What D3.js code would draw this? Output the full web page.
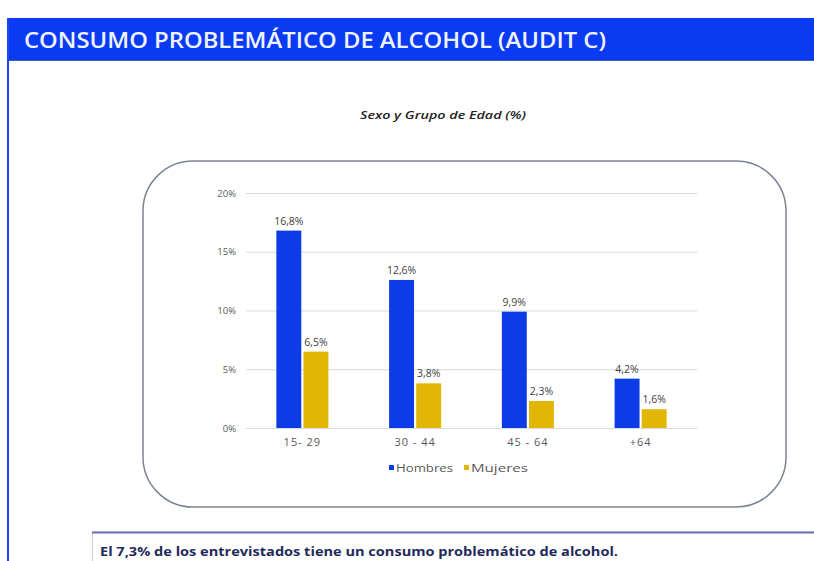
<!DOCTYPE html>
<html>
<head>
<meta charset="utf-8">
<script src="https://cdn.jsdelivr.net/npm/d3@7"></script>
<style>
  body { margin: 0; background: #fff; }
  svg { display: block; font-family: "Open Sans", "DejaVu Sans", sans-serif; }
</style>
</head>
<body>
<div id="chart"></div>
<script>
// Data
const groups = ["15- 29", "30 - 44", "45 - 64", "+64"];
const series = ["Hombres", "Mujeres"];
const hombres = [16.8, 12.6, 9.9, 4.2];
const mujeres = [6.5, 3.8, 2.3, 1.6];
const yTicks = [0, 5, 10, 15, 20];
const colors = { Hombres: "#0b3ce6", Mujeres: "#e2b606" };

const width = 814, height = 561;

const svg = d3.select("#chart").append("svg")
    .attr("width", width)
    .attr("height", height);

// Header bar
svg.append("rect")
    .attr("x", 7).attr("y", 18)
    .attr("width", width - 7).attr("height", 42)
    .attr("fill", "#0a3af2");
svg.append("line")
    .attr("x1", 7).attr("x2", width)
    .attr("y1", 60.5).attr("y2", 60.5)
    .attr("stroke", "#3b5fa8").attr("stroke-width", 1);
svg.append("line")
    .attr("x1", 8).attr("x2", 8)
    .attr("y1", 18).attr("y2", height)
    .attr("stroke", "#1a47f0").attr("stroke-width", 2);

svg.append("text")
    .attr("x", 24).attr("y", 48)
    .attr("fill", "#eef4ff")
    .style("font-size", "22px")
    .style("font-weight", "600")
    .attr("textLength", 582)
    .attr("lengthAdjust", "spacingAndGlyphs")
    .text("CONSUMO PROBLEMÁTICO DE ALCOHOL (AUDIT C)");

// Subtitle
svg.append("text")
    .attr("x", 443).attr("y", 119)
    .attr("text-anchor", "middle")
    .style("font-size", "11px")
    .style("font-style", "italic")
    .style("font-weight", "600")
    .attr("fill", "#222")
    .attr("textLength", 166)
    .attr("lengthAdjust", "spacingAndGlyphs")
    .text("Sexo y Grupo de Edad (%)");

// Rounded frame
svg.append("rect")
    .attr("x", 143).attr("y", 161)
    .attr("width", 643).attr("height", 346)
    .attr("rx", 50).attr("ry", 50)
    .attr("fill", "none")
    .attr("stroke", "#7d8494")
    .attr("stroke-width", 1.5);

// Scales
const x0 = d3.scaleBand()
    .domain(groups)
    .range([246, 697])
    .paddingInner(0.5)
    .paddingOuter(0.25);

const x1 = d3.scaleBand()
    .domain(series)
    .range([0, x0.bandwidth()])
    .padding(0.08);

const y = d3.scaleLinear()
    .domain([0, 20])
    .range([428, 193]);

// Gridlines
svg.append("g")
    .selectAll("line")
    .data(yTicks)
    .join("line")
    .attr("x1", 246).attr("x2", 697)
    .attr("y1", d => y(d) + 0.5).attr("y2", d => y(d) + 0.5)
    .attr("stroke", "#d9d9d9").attr("stroke-width", 1);

// Y labels
svg.append("g")
    .selectAll("text")
    .data(yTicks)
    .join("text")
    .attr("x", 236)
    .attr("y", d => y(d) + 3.5)
    .attr("text-anchor", "end")
    .style("font-size", "9.5px")
    .attr("fill", "#595959")
    .text(d => d + "%");

// Bars
const rows = groups.map((g, i) => ({ group: g, values: [
    { key: "Hombres", value: hombres[i] },
    { key: "Mujeres", value: mujeres[i] }
] }));

const fmt = v => v.toFixed(1).replace(".", ",") + "%";

const gGroups = svg.append("g")
    .selectAll("g")
    .data(rows)
    .join("g")
    .attr("transform", d => `translate(${x0(d.group)},0)`);

gGroups.selectAll("rect")
    .data(d => d.values)
    .join("rect")
    .attr("x", d => x1(d.key))
    .attr("y", d => y(d.value))
    .attr("width", x1.bandwidth())
    .attr("height", d => y(0) - y(d.value))
    .attr("fill", d => colors[d.key]);

gGroups.selectAll("text")
    .data(d => d.values)
    .join("text")
    .attr("x", d => x1(d.key) + x1.bandwidth() / 2)
    .attr("y", d => y(d.value) - 6)
    .attr("text-anchor", "middle")
    .style("font-size", "10.5px")
    .attr("fill", "#404040")
    .text(d => fmt(d.value));

// Category labels
svg.append("g")
    .selectAll("text")
    .data(groups)
    .join("text")
    .attr("x", d => x0(d) + x0.bandwidth() / 2)
    .attr("y", 446)
    .attr("text-anchor", "middle")
    .style("font-size", "11px")
    .style("letter-spacing", "1px")
    .attr("fill", "#595959")
    .text(d => d);

// Legend
const legend = svg.append("g")
    .attr("transform", "translate(389,472)");
const legendX = [0, 75];
const li = legend.selectAll("g")
    .data(series)
    .join("g")
    .attr("transform", (d, i) => `translate(${legendX[i]},0)`);
li.append("rect")
    .attr("x", 0).attr("y", -7)
    .attr("width", 5).attr("height", 5)
    .attr("fill", d => colors[d]);
li.append("text")
    .attr("x", 7).attr("y", 0)
    .style("font-size", "11px")
    .attr("fill", "#595959")
    .attr("textLength", 57)
    .attr("lengthAdjust", "spacingAndGlyphs")
    .text(d => d);

// Bottom note box
svg.append("rect")
    .attr("x", 92.5).attr("y", 532)
    .attr("width", width - 92).attr("height", 40)
    .attr("fill", "#fff")
    .attr("stroke", "#c9cde0").attr("stroke-width", 1);
svg.append("line")
    .attr("x1", 92).attr("x2", width)
    .attr("y1", 532.5).attr("y2", 532.5)
    .attr("stroke", "#6870b4").attr("stroke-width", 2);
svg.append("text")
    .attr("x", 100).attr("y", 556)
    .style("font-size", "12px")
    .style("font-weight", "700")
    .attr("fill", "#1f2a5c")
    .attr("textLength", 518)
    .attr("lengthAdjust", "spacingAndGlyphs")
    .text("El 7,3% de los entrevistados tiene un consumo problemático de alcohol.");
</script>
</body>
</html>
